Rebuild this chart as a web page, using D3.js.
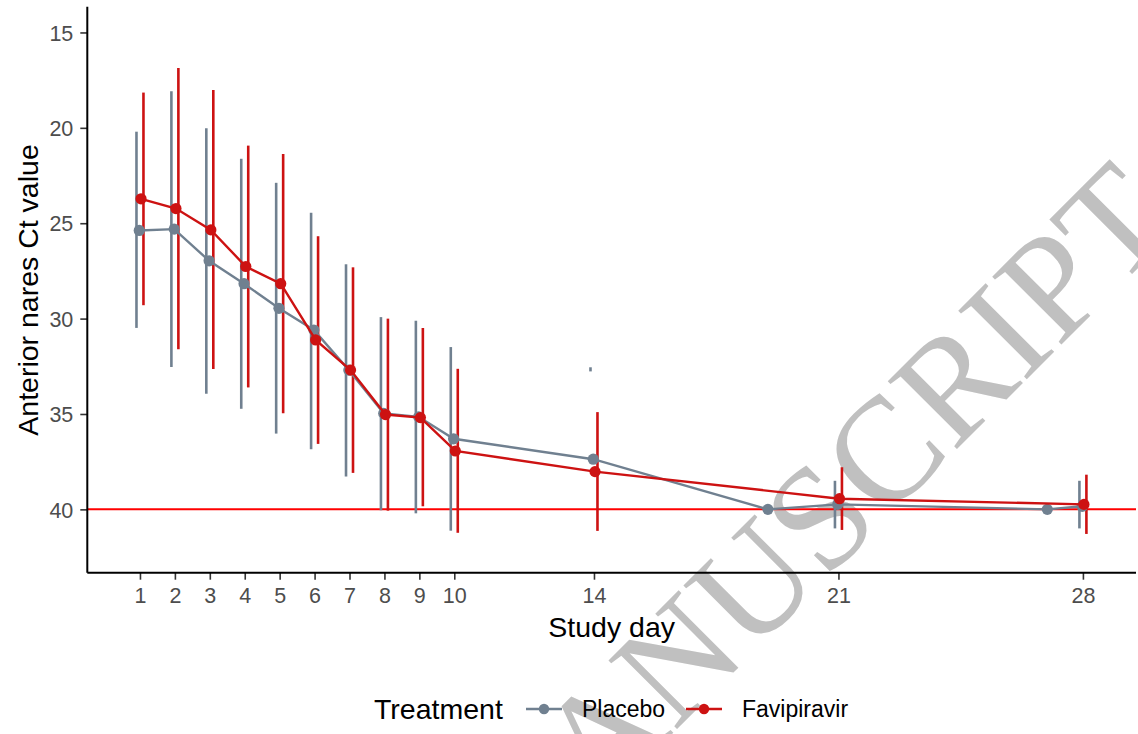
<!DOCTYPE html>
<html>
<head>
<meta charset="utf-8">
<script src="https://cdnjs.cloudflare.com/ajax/libs/d3/7.8.5/d3.min.js"></script>
<style>
  body { margin: 0; background: #fff; }
  svg { display: block; font-family: "Liberation Sans", Arial, sans-serif; }
</style>
</head>
<body>
<svg width="1138" height="734"></svg>
<script>
// ====================
// DATA
// ====================
var placeboDays = [1, 2, 3, 4, 5, 6, 7, 8, 9, 10, 14, 19, 21, 27, 28];
var placeboMean = [25.38, 25.31, 26.97, 28.17, 29.46, 30.6, 32.7, 34.97, 35.15, 36.3, 37.37, 40.0, 39.74, 40.0, 39.84];
var placeboLow = [20.27, 18.15, 20.09, 21.69, 22.95, 24.52, 27.22, 29.99, 30.18, 31.56, 32.62, null, 38.57, null, 38.57];
var placeboHigh = [30.42, 32.47, 33.87, 34.66, 35.96, 36.78, 38.21, 39.98, 40.14, 41.05, 32.7, null, 40.93, null, 40.93];

var faviDays = [1, 2, 3, 4, 5, 6, 7, 8, 9, 10, 14, 21, 28];
var faviMean = [23.72, 24.23, 25.35, 27.27, 28.17, 31.12, 32.7, 35.03, 35.19, 36.94, 38.02, 39.44, 39.74];
var faviLow = [18.22, 16.93, 18.08, 21.0, 21.44, 25.75, 27.38, 30.07, 30.56, 32.7, 34.97, 37.86, 38.25];
var faviHigh = [29.23, 31.54, 32.58, 33.54, 34.89, 36.5, 38.02, 40.0, 39.77, 41.16, 41.06, 41.01, 41.22];

var xTicks = [1, 2, 3, 4, 5, 6, 7, 8, 9, 10, 14, 21, 28];
var yTicks = [15, 20, 25, 30, 35, 40];
var limitCt = 40;

var groups = [
  { name: "Placebo", color: "#708090", days: placeboDays, mean: placeboMean, low: placeboLow, high: placeboHigh, barShift: -0.1, ptShift: -0.02 },
  { name: "Favipiravir", color: "#cd1212", days: faviDays, mean: faviMean, low: faviLow, high: faviHigh, barShift: 0.1, ptShift: 0.03 }
];

// ########
// # MAIN #
// ########
var svg = d3.select("svg");

// (don't call it "top", that one belongs to window)
var plotLeft = 87.3, plotRight = 1136, plotTop = 6.7, plotBottom = 572.7;

var x = d3.scaleLinear().domain([-0.508, 29.52]).range([plotLeft, plotRight]);
var y = d3.scaleLinear().domain([13.65, 43.32]).range([plotTop, plotBottom]);

// watermark from the journal page, sits behind the data
svg.append("text")
  .attr("transform", "translate(1180,226) rotate(-45)")
  .attr("text-anchor", "end")
  .attr("font-family", "'Liberation Serif', 'Times New Roman', serif")
  .attr("font-size", 148)
  .attr("fill", "#c0c0c0")
  .text("ACCEPTED MANUSCRIPT");

// reference line at Ct 40
svg.append("line")
  .attr("x1", plotLeft).attr("x2", plotRight)
  .attr("y1", y(limitCt)).attr("y2", y(limitCt))
  .attr("stroke", "#ff0000")
  .attr("stroke-width", 2);

groups.forEach(function (g) {
  var rows = g.days.map(function (d, i) {
    return { day: d, mean: g.mean[i], low: g.low[i], high: g.high[i] };
  });

  // error bars
  svg.append("g").selectAll("line")
    .data(rows.filter(function (r) { return r.low !== null; }))
    .enter().append("line")
    .attr("x1", function (r) { return x(r.day + g.barShift); })
    .attr("x2", function (r) { return x(r.day + g.barShift); })
    .attr("y1", function (r) { return y(r.low); })
    .attr("y2", function (r) { return y(r.high); })
    .attr("stroke", g.color)
    .attr("stroke-width", 2.6)
    .attr("stroke-linecap", "square");
});

groups.forEach(function (g) {
  var rows = g.days.map(function (d, i) { return { day: d, mean: g.mean[i] }; });

  var line = d3.line()
    .x(function (r) { return x(r.day + g.ptShift); })
    .y(function (r) { return y(r.mean); });

  svg.append("path")
    .datum(rows)
    .attr("d", line)
    .attr("fill", "none")
    .attr("stroke", g.color)
    .attr("stroke-width", 2.4);

  svg.append("g").selectAll("circle")
    .data(rows)
    .enter().append("circle")
    .attr("cx", function (r) { return x(r.day + g.ptShift); })
    .attr("cy", function (r) { return y(r.mean); })
    .attr("r", 5.6)
    .attr("fill", g.color);
});

// ####################
// # AXES
// ####################
var xAxis = svg.append("g")
  .attr("transform", "translate(0," + plotBottom + ")")
  .call(d3.axisBottom(x).tickValues(xTicks).tickSize(7).tickPadding(8).tickFormat(d3.format("d")));

var yAxis = svg.append("g")
  .attr("transform", "translate(" + plotLeft + ",0)")
  .call(d3.axisLeft(y).tickValues(yTicks).tickSize(7).tickPadding(7));

[xAxis, yAxis].forEach(function (ax) {
  ax.select(".domain").attr("d", null);
  ax.selectAll(".tick line").attr("stroke", "#333").attr("stroke-width", 1.6);
  ax.selectAll(".tick text")
    .attr("fill", "#4d4d4d")
    .attr("font-size", 21.5)
    .attr("font-family", "'Liberation Sans', Arial, sans-serif");
});
yAxis.selectAll(".tick text").attr("dy", "0.36em");

// axis lines
svg.append("line")
  .attr("x1", plotLeft).attr("x2", plotLeft).attr("y1", plotTop).attr("y2", plotBottom)
  .attr("stroke", "#000").attr("stroke-width", 2);
svg.append("line")
  .attr("x1", plotLeft).attr("x2", plotRight).attr("y1", plotBottom).attr("y2", plotBottom)
  .attr("stroke", "#000").attr("stroke-width", 2);

// axis titles
svg.append("text")
  .attr("x", (plotLeft + plotRight) / 2)
  .attr("y", 637)
  .attr("text-anchor", "middle")
  .attr("font-size", 28.5)
  .attr("fill", "#000")
  .text("Study day");

svg.append("text")
  .attr("transform", "translate(38," + 290 + ") rotate(-90)")
  .attr("text-anchor", "middle")
  .attr("font-size", 28.5)
  .attr("fill", "#000")
  .text("Anterior nares Ct value");

// ##########
// # LEGEND #
// ##########
var legendY = 709;
svg.append("text")
  .attr("x", 374)
  .attr("y", legendY + 10)
  .attr("font-size", 28.5)
  .attr("fill", "#000")
  .text("Treatment");

var keyX = [526, 686];
var labelX = [582, 742];
groups.forEach(function (g, i) {
  svg.append("line")
    .attr("x1", keyX[i]).attr("x2", keyX[i] + 36)
    .attr("y1", legendY).attr("y2", legendY)
    .attr("stroke", g.color).attr("stroke-width", 2.4);
  svg.append("circle")
    .attr("cx", keyX[i] + 18).attr("cy", legendY).attr("r", 5.2)
    .attr("fill", g.color);
  svg.append("text")
    .attr("x", labelX[i])
    .attr("y", legendY + 8)
    .attr("font-size", 23)
    .attr("fill", "#000")
    .text(g.name);
});
</script>
</body>
</html>
